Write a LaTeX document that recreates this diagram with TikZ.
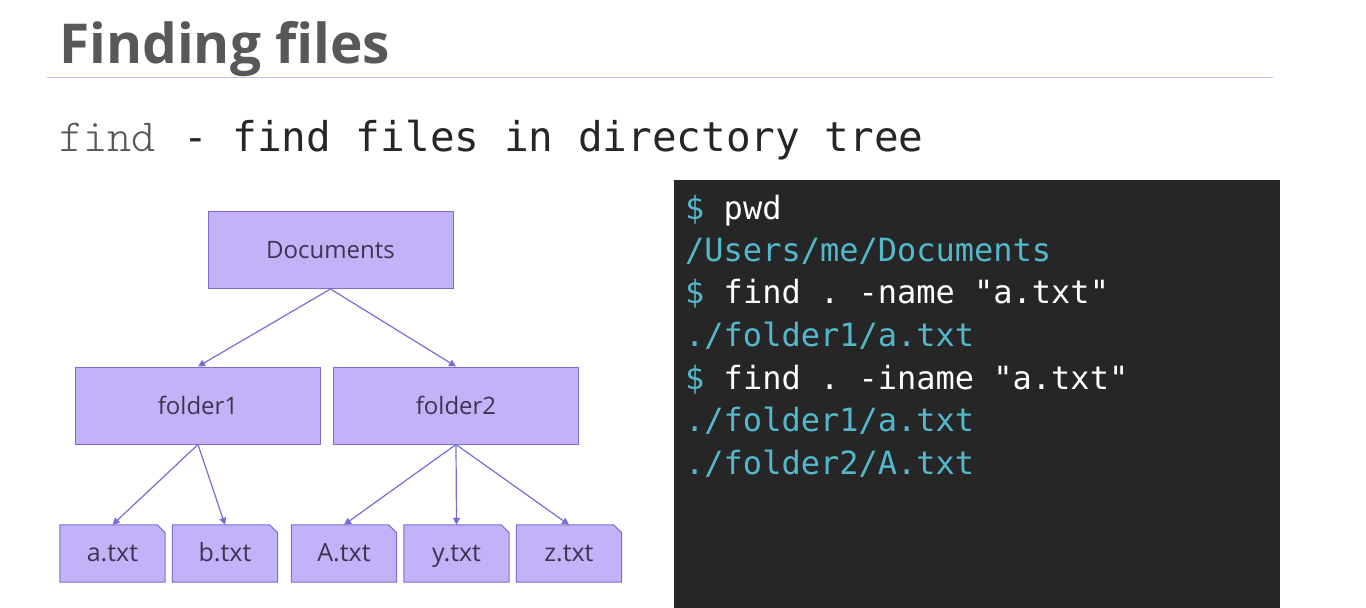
\documentclass[tikz,border=0pt]{standalone}
\usepackage{fontspec}
\setmainfont{Open Sans}
\setmonofont{DejaVu Sans Mono}
\newfontfamily\thinmono{Latin Modern Mono Light}
\usetikzlibrary{arrows.meta}

\definecolor{boxfill}{RGB}{196,178,248}
\definecolor{boxline}{RGB}{125,110,205}
\definecolor{arrowcol}{RGB}{122,108,214}
\definecolor{boxtext}{RGB}{60,52,82}
\definecolor{termbg}{RGB}{38,38,38}
\definecolor{termcyan}{RGB}{84,184,204}
\definecolor{titlegray}{RGB}{88,88,88}
\definecolor{rulecol}{RGB}{196,190,238}

\tikzset{
  treebox/.style={draw=boxline, fill=boxfill, line width=1pt,
                  minimum width=245pt, minimum height=77pt,
                  font=\fontsize{24}{28}\selectfont, text=boxtext},
  filebox/.style={minimum width=105pt, minimum height=57pt, inner sep=0pt,
                  text height=18pt, text depth=2pt,
                  font=\fontsize{25}{28}\selectfont, text=boxtext},
  fileshape/.style={draw=boxline, fill=boxfill, line width=1pt},
  link/.style={draw=arrowcol, line width=1.2pt, -{Triangle[length=7pt,width=7pt]}},
  termline/.style={anchor=base west, inner sep=0pt,
                   font=\ttfamily\fontsize{32}{36}\selectfont},
}

\begin{document}
\begin{tikzpicture}[x=1pt, y=-1pt]
  \useasboundingbox (0,0) rectangle (1366,608);
  \fill[white] (0,0) rectangle (1366,608);

  % heading
  \node[anchor=base west, inner sep=0pt, text=titlegray,
        font=\bfseries\fontsize{55}{60}\selectfont] (title) at (59,63) {Finding files};
  \draw[rulecol, line width=1pt] (47,77) -- (1273,77);

  \node[anchor=base west, inner sep=0pt, text=titlegray,
        font=\thinmono\fontsize{46}{48}\selectfont] (cmd) at (59,151) {find};
  \node[anchor=base west, inner sep=0pt, text=black!85,
        font=\ttfamily\fontsize{41}{44}\selectfont] (desc) at (183,151)
    {- find files in directory tree};

  % directory tree
  \node[treebox] (docs) at (330.5,250) {Documents};
  \node[treebox] (fold1) at (198,405.5) {folder1};
  \node[treebox] (fold2) at (456,405.5) {folder2};

  \foreach \name/\x/\txt in {fa/112.5/a.txt, fb/225/b.txt, fA/344/A.txt,
                             fy/456.5/y.txt, fz/569/z.txt} {
    \node[filebox] (\name) at (\x,553.5) {};
    \path[fileshape] (\name.south west) -- (\name.north west)
      -- ([xshift=-8pt]\name.north east) -- ([yshift=-8pt]\name.north east)
      -- (\name.south east) -- cycle;
    \node[filebox] at (\name) {\txt};
  }

  \draw[link] (docs.south) -- (fold1.north);
  \draw[link] (docs.south) -- (fold2.north);
  \draw[link] (fold1.south) -- (fa.north);
  \draw[link] (fold1.south) -- (fb.north);
  \draw[link] (fold2.south) -- (fA.north);
  \draw[link] (fold2.south) -- (fy.north);
  \draw[link] (fold2.south) -- (fz.north);

  % terminal
  \fill[termbg] (674,180) rectangle (1280,608);
  \node[termline] (t1) at (685,219) {\textcolor{termcyan}{\$} \textcolor{white}{pwd}};
  \node[termline, text=termcyan] (t2) at (685,261) {/Users/me/Documents};
  \node[termline] (t3) at (685,303) {\textcolor{termcyan}{\$} \textcolor{white}{find . -name "a.txt"}};
  \node[termline, text=termcyan] (t4) at (685,346) {./folder1/a.txt};
  \node[termline] (t5) at (685,389) {\textcolor{termcyan}{\$} \textcolor{white}{find . -iname "a.txt"}};
  \node[termline, text=termcyan] (t6) at (685,431) {./folder1/a.txt};
  \node[termline, text=termcyan] (t7) at (685,474) {./folder2/A.txt};
\end{tikzpicture}
\end{document}
